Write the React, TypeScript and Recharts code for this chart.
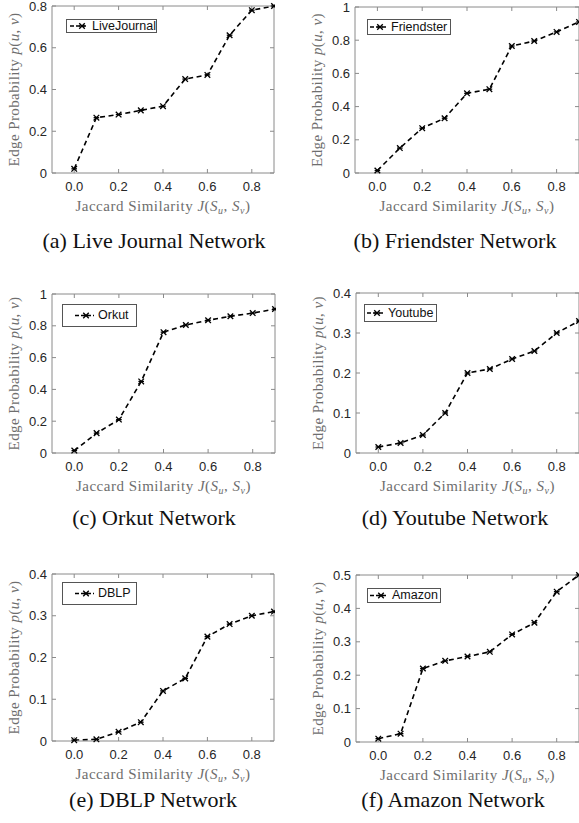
import React from "react";
import { LineChart, Line, XAxis, YAxis, Label } from "recharts";

// Jaccard similarity values (x axis, shared by all panels)
const jaccard = [0, 0.1, 0.2, 0.3, 0.4, 0.5, 0.6, 0.7, 0.8, 0.9];
const xTicks = [0, 0.2, 0.4, 0.6, 0.8];

// edge probability
const liveJournal = [0.02, 0.265, 0.28, 0.3, 0.32, 0.45, 0.47, 0.66, 0.78, 0.8];
const friendster = [0.015, 0.15, 0.27, 0.33, 0.48, 0.505, 0.765, 0.795, 0.85, 0.91];
const orkut = [0.015, 0.125, 0.21, 0.45, 0.76, 0.805, 0.835, 0.86, 0.88, 0.905];
const youtube = [0.015, 0.025, 0.045, 0.1, 0.2, 0.21, 0.235, 0.255, 0.3, 0.33];
const dblp = [0.002, 0.004, 0.022, 0.045, 0.12, 0.15, 0.25, 0.28, 0.3, 0.31];
const amazon = [0.01, 0.025, 0.22, 0.243, 0.256, 0.27, 0.322, 0.357, 0.45, 0.5];

const ticks08 = [0, 0.2, 0.4, 0.6, 0.8];
const ticks1 = [0, 0.2, 0.4, 0.6, 0.8, 1];
const ticks04 = [0, 0.1, 0.2, 0.3, 0.4];
const ticks05 = [0, 0.1, 0.2, 0.3, 0.4, 0.5];

const seriesNames = ["LiveJournal", "Friendster", "Orkut", "Youtube", "DBLP", "Amazon"];
const captions = [
  "(a) Live Journal Network",
  "(b) Friendster Network",
  "(c) Orkut Network",
  "(d) Youtube Network",
  "(e) DBLP Network",
  "(f) Amazon Network",
];

const serif = "'Liberation Serif', 'Times New Roman', serif";
const sans = "'Liberation Sans', Arial, Helvetica, sans-serif";
const boxColor = "#8a8a8a";
const titleColor = "#6e6e6e";

type Panel = {
  values: number[];
  yMax: number;
  yTicks: number[];
  name: string;
  caption: string;
  box: { l: number; t: number; r: number; b: number };
  legend: { x: number; y: number; w: number; h: number; line: number; mark: number; text: number };
  capX: number;
  capY: number;
};

const panels: Panel[] = [
  {
    values: liveJournal, yMax: 0.8, yTicks: ticks08, name: seriesNames[0], caption: captions[0],
    box: { l: 52, t: 7, r: 273, b: 174 },
    legend: { x: 66, y: 19, w: 91, h: 14, line: 3, mark: 15, text: 25 },
    capX: 154, capY: 241,
  },
  {
    values: friendster, yMax: 1, yTicks: ticks1, name: seriesNames[1], caption: captions[1],
    box: { l: 355, t: 8, r: 578, b: 174 },
    legend: { x: 367, y: 19, w: 84, h: 16, line: 2, mark: 12, text: 23 },
    capX: 455, capY: 241,
  },
  {
    values: orkut, yMax: 1, yTicks: ticks1, name: seriesNames[2], caption: captions[2],
    box: { l: 52, t: 295, r: 274, b: 454 },
    legend: { x: 62, y: 304, w: 75, h: 23, line: 12, mark: 23, text: 35 },
    capX: 154, capY: 518,
  },
  {
    values: youtube, yMax: 0.4, yTicks: ticks04, name: seriesNames[3], caption: captions[3],
    box: { l: 356, t: 294, r: 578, b: 454 },
    legend: { x: 364, y: 304, w: 73, h: 18, line: 2, mark: 12, text: 23 },
    capX: 455, capY: 518,
  },
  {
    values: dblp, yMax: 0.4, yTicks: ticks04, name: seriesNames[4], caption: captions[4],
    box: { l: 52, t: 575, r: 273, b: 742 },
    legend: { x: 62, y: 582, w: 75, h: 23, line: 12, mark: 23, text: 35 },
    capX: 153, capY: 800,
  },
  {
    values: amazon, yMax: 0.5, yTicks: ticks05, name: seriesNames[5], caption: captions[5],
    box: { l: 356, t: 576, r: 578, b: 743 },
    legend: { x: 367, y: 588, w: 74, h: 15, line: 2, mark: 13, text: 24 },
    capX: 453, capY: 800,
  },
];

function Star({ cx, cy }: { cx?: number; cy?: number }) {
  if (cx == null || cy == null) return null;
  const s = 2.8;
  return (
    <g stroke="#000" strokeWidth={1.3}>
      <line x1={cx - s} y1={cy - s} x2={cx + s} y2={cy + s} />
      <line x1={cx - s} y1={cy + s} x2={cx + s} y2={cy - s} />
      <line x1={cx - s} y1={cy} x2={cx + s} y2={cy} />
    </g>
  );
}

function YTitle(props: any) {
  const { x, y, height } = props.viewBox;
  const cx = x + 14;
  const cy = y + height / 2;
  return (
    <text
      x={cx}
      y={cy}
      transform={`rotate(-90 ${cx} ${cy})`}
      textAnchor="middle"
      dominantBaseline="central"
      fontFamily={serif}
      fontSize={15}
      letterSpacing={0.4}
      fill={titleColor}
    >
      {"Edge Probability "}
      <tspan fontStyle="italic">p</tspan>
      {"("}
      <tspan fontStyle="italic">u</tspan>
      {", "}
      <tspan fontStyle="italic">v</tspan>
      {")"}
    </text>
  );
}

function XTitle(props: any) {
  const { x, y, width } = props.viewBox;
  return (
    <text
      x={x + width / 2}
      y={y + 38}
      textAnchor="middle"
      fontFamily={serif}
      fontSize={15}
      letterSpacing={0.5}
      fill={titleColor}
    >
      {"Jaccard Similarity "}
      <tspan fontStyle="italic">J</tspan>
      {"("}
      <tspan fontStyle="italic">S</tspan>
      <tspan fontStyle="italic" fontSize={10} dy={3}>u</tspan>
      <tspan dy={-3}>{", "}</tspan>
      <tspan fontStyle="italic">S</tspan>
      <tspan fontStyle="italic" fontSize={10} dy={3}>v</tspan>
      <tspan dy={-3}>{")"}</tspan>
    </text>
  );
}

const tickStyle = { fill: "#262626", fontSize: 13, fontFamily: sans };
const lineStyle = { stroke: boxColor, strokeWidth: 1 };
const blank = () => "";

function PanelChart({ p }: { p: Panel }) {
  const { l, t, r, b } = p.box;
  const data = jaccard.map((x, i) => ({ x, y: p.values[i] }));
  const width = r - l + 54;
  const height = b - t + 54;
  const lg = p.legend;
  return (
    <>
      <div style={{ position: "absolute", left: l - 52, top: t - 9 }}>
        <LineChart width={width} height={height} data={data} margin={{ top: 8, right: 1, bottom: 0, left: 0 }}>
          <XAxis
            dataKey="x"
            type="number"
            domain={[-0.1, 0.9]}
            ticks={xTicks}
            tickFormatter={(v: number) => v.toFixed(1)}
            height={46}
            tickSize={-4}
            tickMargin={13}
            tick={tickStyle}
            axisLine={lineStyle}
            tickLine={lineStyle}
          >
            <Label content={<XTitle />} />
          </XAxis>
          <XAxis
            xAxisId="top"
            dataKey="x"
            orientation="top"
            type="number"
            domain={[-0.1, 0.9]}
            allowDataOverflow
            ticks={xTicks}
            tickFormatter={blank}
            height={1}
            mirror
            tickSize={4}
            axisLine={lineStyle}
            tickLine={lineStyle}
          />
          <YAxis
            type="number"
            domain={[0, p.yMax]}
            ticks={p.yTicks}
            width={52}
            tickSize={-4}
            tickMargin={9}
            tick={tickStyle}
            axisLine={lineStyle}
            tickLine={lineStyle}
          >
            <Label content={<YTitle />} />
          </YAxis>
          <YAxis
            yAxisId="right"
            orientation="right"
            type="number"
            domain={[0, p.yMax]}
            allowDataOverflow
            ticks={p.yTicks}
            tickFormatter={blank}
            width={1}
            mirror
            tickSize={4}
            axisLine={lineStyle}
            tickLine={lineStyle}
          />
          {/* carrier series so the top/right frame axes get drawn */}
          <Line
            xAxisId="top"
            yAxisId="right"
            dataKey="y"
            stroke="none"
            dot={false}
            activeDot={false}
            legendType="none"
            isAnimationActive={false}
          />
          <Line
            type="linear"
            dataKey="y"
            stroke="#000"
            strokeWidth={1.6}
            strokeDasharray="5 3.5"
            dot={(d: any) => <Star key={d.index} cx={d.cx} cy={d.cy} />}
            activeDot={false}
            isAnimationActive={false}
          />
        </LineChart>
      </div>
      <div
        style={{
          position: "absolute",
          left: lg.x,
          top: lg.y,
          width: lg.w,
          height: lg.h,
          boxSizing: "border-box",
          border: "1px solid #555",
          background: "#fff",
        }}
      >
        <svg width={lg.text} height={lg.h - 2} style={{ position: "absolute", left: 0, top: 0 }}>
          <line
            x1={lg.line}
            x2={lg.text - 4}
            y1={(lg.h - 2) / 2}
            y2={(lg.h - 2) / 2}
            stroke="#000"
            strokeWidth={1.6}
            strokeDasharray="4 2"
          />
          <Star cx={lg.mark} cy={(lg.h - 2) / 2} />
        </svg>
        <span
          style={{
            position: "absolute",
            left: lg.text,
            top: 0,
            lineHeight: `${lg.h - 2}px`,
            fontFamily: sans,
            fontSize: 12.5,
            color: "#111",
            whiteSpace: "nowrap",
          }}
        >
          {p.name}
        </span>
      </div>
      <div
        style={{
          position: "absolute",
          left: p.capX - 150,
          top: p.capY - 13,
          width: 300,
          textAlign: "center",
          fontFamily: serif,
          fontSize: 22,
          lineHeight: "26px",
          color: "#111",
        }}
      >
        {p.caption}
      </div>
    </>
  );
}

export default function App() {
  return (
    <div
      style={{
        position: "absolute",
        left: 0,
        top: 0,
        width: 579,
        height: 823,
        overflow: "hidden",
        background: "#fff",
      }}
    >
      {panels.map((p) => (
        <PanelChart key={p.name} p={p} />
      ))}
    </div>
  );
}
